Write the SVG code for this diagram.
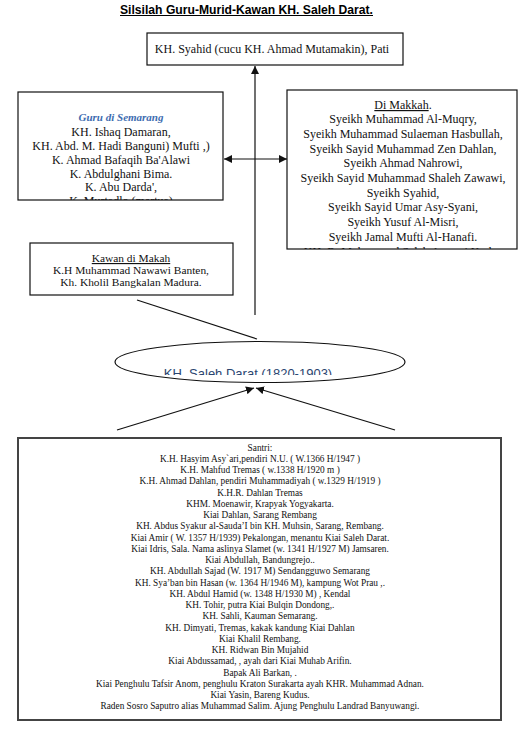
<svg xmlns="http://www.w3.org/2000/svg" width="521" height="731" viewBox="0 0 521 731">
<style>
.t{font-family:"Liberation Serif","Times New Roman",serif;font-size:12px;fill:#111;text-anchor:middle}
.k{font-family:"Liberation Serif","Times New Roman",serif;font-size:11.4px;fill:#111;text-anchor:middle}
.s{font-family:"Liberation Serif","Times New Roman",serif;font-size:9.3px;fill:#111;text-anchor:middle}
.box{fill:#fff;stroke:#111;stroke-width:1.2}
.conn{stroke:#111;stroke-width:1.2;fill:none}
</style>
<defs>
<marker id="ah" viewBox="0 0 10 10" refX="10" refY="5" markerWidth="8" markerHeight="8" markerUnits="userSpaceOnUse" orient="auto-start-reverse">
<path d="M0,0 L10,5 L0,10 z" fill="#111"/>
</marker>
<clipPath id="cg"><rect x="18" y="92" width="205" height="108"/></clipPath>
<clipPath id="cm"><rect x="287" y="90" width="230" height="159"/></clipPath>
<clipPath id="ce"><rect x="110" y="340" width="300" height="35"/></clipPath>
</defs>
<rect width="521" height="731" fill="#fff"/>
<g id="title">
<text x="120" y="13.5" font-family="'Liberation Sans',Arial,sans-serif" font-weight="bold" font-size="12" textLength="253" lengthAdjust="spacingAndGlyphs" fill="#000">Silsilah Guru-Murid-Kawan KH. Saleh Darat.</text>
<line x1="120" y1="15.5" x2="373" y2="15.5" stroke="#000" stroke-width="1"/>
</g>
<g id="connectors">
<line class="conn" x1="255" y1="315" x2="255" y2="66" marker-end="url(#ah)"/>
<line class="conn" x1="224" y1="159" x2="287" y2="159" marker-start="url(#ah)" marker-end="url(#ah)"/>
<line class="conn" x1="137" y1="300" x2="257" y2="339"/>
<line class="conn" x1="117" y1="430" x2="254" y2="388" marker-end="url(#ah)"/>
<line class="conn" x1="395" y1="430" x2="256" y2="388" marker-end="url(#ah)"/>
</g>
<g id="top">
<rect class="box" x="147" y="33" width="256" height="32" stroke="#333" stroke-width="1.5"/>
<text class="t" x="272" y="53">KH. Syahid (cucu KH. Ahmad Mutamakin), Pati</text>
</g>
<g id="guru">
<rect class="box" x="18" y="92" width="205" height="108"/>
<g clip-path="url(#cg)">
<text x="121" y="121" text-anchor="middle" font-family="'Liberation Serif','Times New Roman',serif" font-size="11" font-weight="bold" font-style="italic" fill="#3d6cb0">Guru di Semarang</text>
<text class="t" x="121" y="136">KH. Ishaq Damaran,</text>
<text class="t" x="121" y="150">KH. Abd. M. Hadi Banguni) Mufti ,)</text>
<text class="t" x="121" y="164">K. Ahmad  Bafaqih Ba'Alawi</text>
<text class="t" x="121" y="178">K. Abdulghani Bima.</text>
<text class="t" x="121" y="191">K. Abu Darda',</text>
<text class="t" x="121" y="205">K. Murtadlo (mertua)</text>
</g>
</g>
<g id="makkah">
<rect class="box" x="287" y="90" width="230" height="159"/>
<g clip-path="url(#cm)">
<text class="t" x="403" y="109"><tspan text-decoration="underline">Di Makkah</tspan>.</text>
<text class="t" x="403" y="123">Syeikh Muhammad Al-Muqry,</text>
<text class="t" x="403" y="138">Syeikh Muhammad Sulaeman Hasbullah,</text>
<text class="t" x="403" y="153">Syeikh Sayid Muhammad Zen Dahlan,</text>
<text class="t" x="403" y="167">Syeikh Ahmad Nahrowi,</text>
<text class="t" x="403" y="182">Syeikh Sayid Muhammad Shaleh Zawawi,</text>
<text class="t" x="403" y="197">Syeikh Syahid,</text>
<text class="t" x="403" y="211">Syeikh Sayid Umar Asy-Syani,</text>
<text class="t" x="403" y="226">Syeikh Yusuf Al-Misri,</text>
<text class="t" x="403" y="241">Syeikh Jamal Mufti Al-Hanafi.</text>
<text class="t" x="403" y="256">KH. R. Muhammad Saleh Asnawi Kudus</text>
</g>
</g>
<g id="kawan">
<rect class="box" x="30" y="243" width="203" height="52"/>
<text class="k" x="131" y="262" text-decoration="underline">Kawan  di Makah</text>
<text class="k" x="131" y="274">K.H Muhammad Nawawi Banten,</text>
<text class="k" x="131" y="286">Kh. Kholil Bangkalan Madura.</text>
</g>
<g id="saleh">
<ellipse cx="260" cy="362" rx="145" ry="20.5" fill="#fff" stroke="#111" stroke-width="1.2"/>
<text x="248" y="378" clip-path="url(#ce)" text-anchor="middle" font-family="'Liberation Sans',Arial,sans-serif" font-size="13" fill="#2b4570">KH. Saleh Darat (1820-1903)</text>
</g>
<g id="santri">
<rect x="18" y="438" width="483" height="282" fill="#fff" stroke="#444" stroke-width="2"/>
<text class="s" x="260" y="451">Santri:</text>
<text class="s" x="260" y="462">K.H. Hasyim Asy`ari,pendiri N.U. ( W.1366 H/1947  )</text>
<text class="s" x="260" y="473">K.H. Mahfud Tremas ( w.1338 H/1920 m )</text>
<text class="s" x="260" y="484">K.H. Ahmad Dahlan, pendiri Muhammadiyah ( w.1329 H/1919 )</text>
<text class="s" x="260" y="496">K.H.R. Dahlan Tremas</text>
<text class="s" x="260" y="507">KHM. Moenawir, Krapyak Yogyakarta.</text>
<text class="s" x="260" y="518">Kiai Dahlan, Sarang Rembang</text>
<text class="s" x="260" y="529">KH. Abdus Syakur al-Sauda’I bin KH. Muhsin, Sarang, Rembang.</text>
<text class="s" x="260" y="541">Kiai Amir  ( W. 1357 H/1939) Pekalongan, menantu Kiai Saleh Darat.</text>
<text class="s" x="260" y="552">Kiai Idris, Sala. Nama aslinya Slamet (w. 1341 H/1927 M) Jamsaren.</text>
<text class="s" x="260" y="563">Kiai Abdullah, Bandungrejo..</text>
<text class="s" x="260" y="574">KH. Abdullah Sajad (W. 1917 M) Sendangguwo Semarang</text>
<text class="s" x="260" y="586">KH. Sya’ban bin Hasan (w. 1364 H/1946 M), kampung Wot Prau ,.</text>
<text class="s" x="260" y="597">KH. Abdul Hamid (w. 1348 H/1930 M) , Kendal</text>
<text class="s" x="260" y="608">KH. Tohir, putra Kiai Bulqin Dondong,.</text>
<text class="s" x="260" y="619">KH. Sahli, Kauman Semarang.</text>
<text class="s" x="260" y="631">KH. Dimyati, Tremas, kakak kandung Kiai Dahlan</text>
<text class="s" x="260" y="642">Kiai Khalil Rembang.</text>
<text class="s" x="260" y="653">KH. Ridwan Bin Mujahid</text>
<text class="s" x="260" y="664">Kiai Abdussamad, , ayah dari Kiai Muhab Arifin.</text>
<text class="s" x="260" y="676">Bapak Ali Barkan, .</text>
<text class="s" x="260" y="687">Kiai Penghulu Tafsir Anom, penghulu Kraton Surakarta ayah KHR. Muhammad Adnan.</text>
<text class="s" x="260" y="698">Kiai Yasin, Bareng Kudus.</text>
<text class="s" x="260" y="709">Raden Sosro Saputro alias Muhammad Salim. Ajung Penghulu Landrad Banyuwangi.</text>
</g>
</svg>
